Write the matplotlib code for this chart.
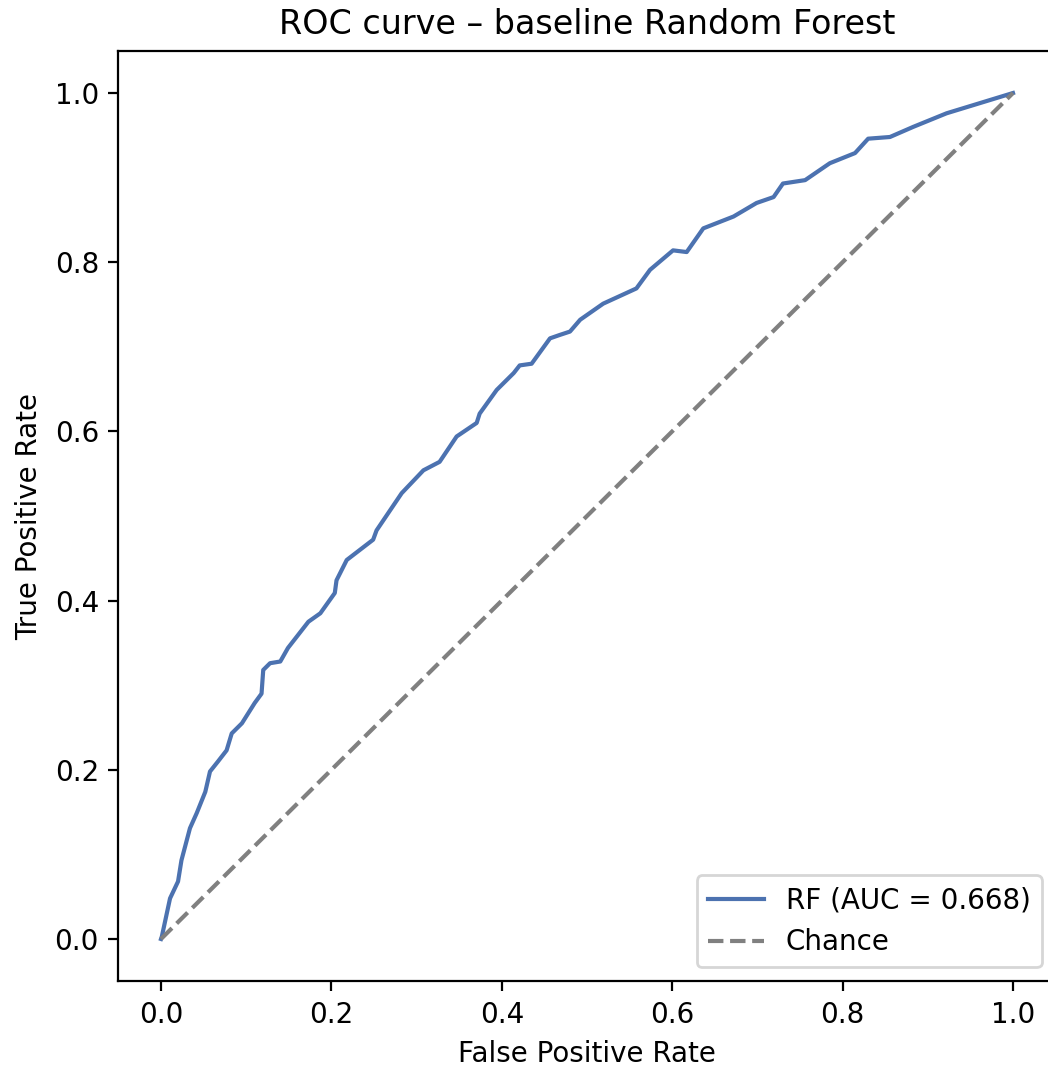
import matplotlib
matplotlib.use("Agg")
import matplotlib.pyplot as plt

# ROC curve points
fpr = [0.0, 0.001, 0.0106, 0.020, 0.024, 0.034, 0.042, 0.052, 0.0575, 0.067, 0.077,
       0.083, 0.095, 0.110, 0.118, 0.120, 0.128, 0.140, 0.149, 0.173, 0.187, 0.204,
       0.206, 0.218, 0.249, 0.253, 0.2825, 0.308, 0.327, 0.347, 0.3705, 0.374,
       0.394, 0.414, 0.421, 0.435, 0.4566, 0.468, 0.480, 0.492, 0.519, 0.558,
       0.574, 0.601, 0.617, 0.6365, 0.672, 0.699, 0.719, 0.730, 0.756, 0.785,
       0.8146, 0.830, 0.8556, 0.883, 0.922, 0.961, 1.0]
tpr = [0.0, 0.003, 0.048, 0.068, 0.093, 0.131, 0.149, 0.174, 0.198, 0.210, 0.223,
       0.243, 0.255, 0.279, 0.290, 0.318, 0.326, 0.328, 0.344, 0.375, 0.385, 0.409,
       0.424, 0.448, 0.472, 0.483, 0.527, 0.554, 0.564, 0.594, 0.610, 0.621,
       0.649, 0.669, 0.678, 0.680, 0.710, 0.714, 0.718, 0.732, 0.751, 0.769,
       0.791, 0.814, 0.812, 0.840, 0.854, 0.870, 0.877, 0.893, 0.897, 0.917,
       0.929, 0.946, 0.948, 0.960, 0.976, 0.988, 1.0]
auc_value = 0.668
chance = [0.0, 1.0]

W, H, DPI = 1048, 1068, 200
fig = plt.figure(figsize=(W / DPI, H / DPI), dpi=DPI)
left, right = 118.4 / W, 1055.6 / W
bottom, top = (H - 981.3) / H, (H - 50.7) / H
ax = fig.add_axes([left, bottom, right - left, top - bottom])

ax.plot(fpr, tpr, color="#4c72b0", lw=1.5, label=f"RF (AUC = {auc_value:.3f})")
ax.plot(chance, chance, linestyle="--", color="gray", lw=1.5, label="Chance")
ax.set_xlim(-0.05, 1.05)
ax.set_ylim(-0.05, 1.05)
ax.set_xticks([0.0, 0.2, 0.4, 0.6, 0.8, 1.0])
ax.set_yticks([0.0, 0.2, 0.4, 0.6, 0.8, 1.0])
ax.set_xlabel("False Positive Rate")
ax.set_ylabel("True Positive Rate")
ax.set_title("ROC curve – baseline Random Forest", fontsize=12)
ax.legend(loc="lower right")

fig.savefig("out.png", dpi=DPI)
